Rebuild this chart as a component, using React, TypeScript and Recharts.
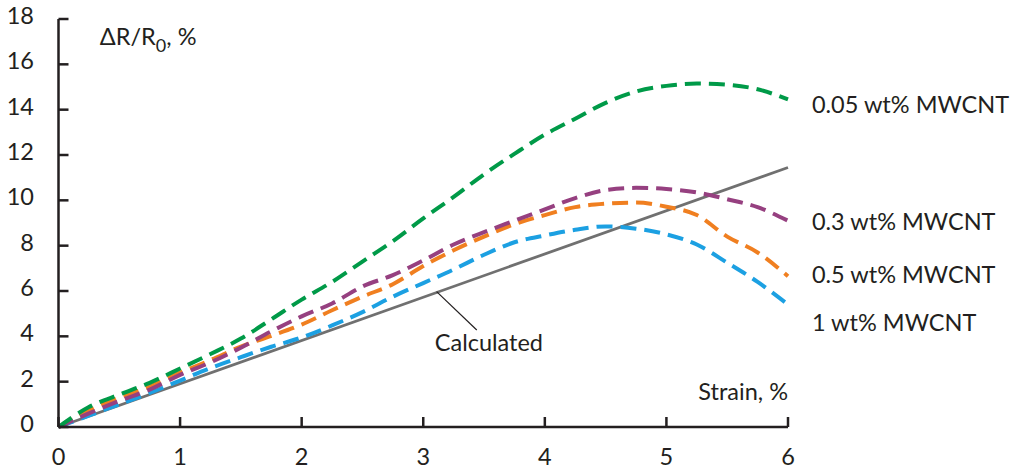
import React from "react";
import { LineChart, Line, XAxis, YAxis, ReferenceLine, ReferenceDot } from "recharts";

const strain = [0, 0.25, 0.5, 0.75, 1, 1.25, 1.5, 1.75, 2, 2.25, 2.5, 2.75, 3, 3.25, 3.5, 3.75, 4, 4.25, 4.5, 4.75, 5, 5.25, 5.5, 5.75, 6];
const wt005 = [0, 0.88, 1.43, 1.95, 2.58, 3.22, 3.9, 4.75, 5.62, 6.4, 7.3, 8.2, 9.2, 10.15, 11.15, 12.05, 12.9, 13.6, 14.3, 14.8, 15.05, 15.15, 15.1, 14.9, 14.45];
const wt03 = [0, 0.6, 1.15, 1.65, 2.3, 2.85, 3.5, 4.22, 4.88, 5.45, 6.2, 6.7, 7.35, 8.05, 8.6, 9.1, 9.6, 10.1, 10.45, 10.55, 10.5, 10.35, 10.05, 9.7, 9.1];
const wt05 = [0, 0.72, 1.3, 1.78, 2.4, 2.95, 3.55, 4.02, 4.52, 5.15, 5.75, 6.3, 7.1, 7.8, 8.4, 8.95, 9.35, 9.7, 9.85, 9.9, 9.72, 9.35, 8.4, 7.7, 6.65];
const wt1 = [0, 0.5, 1.0, 1.5, 2.05, 2.6, 3.08, 3.54, 3.95, 4.48, 5.07, 5.75, 6.35, 6.95, 7.6, 8.15, 8.45, 8.7, 8.85, 8.75, 8.5, 8.05, 7.25, 6.4, 5.4];
const calcStrain = [0, 6];
const calcValues = [0, 11.45];
const xTicks = [0, 1, 2, 3, 4, 5, 6];
const yTicks = [0, 2, 4, 6, 8, 10, 12, 14, 16, 18];

const data = strain.map((s, i) => ({ strain: s, a: wt005[i], b: wt03[i], c: wt05[i], d: wt1[i] }));
const calcData = calcStrain.map((s, i) => ({ strain: s, calc: calcValues[i] }));

const FONT = "Lato, 'Open Sans', sans-serif";
const TXT = "#231f20";
const FS = 23.5;

const XTick = (p: any) => (
  <g>
    <line x1={p.x} y1={427} x2={p.x} y2={417} stroke={TXT} strokeWidth={2.5} />
    <text x={p.x} y={465} textAnchor="middle" fontFamily={FONT} fontSize={FS} fill={TXT}>
      {p.payload.value}
    </text>
  </g>
);

const YTick = (p: any) => (
  <g>
    <line x1={58.5} y1={p.y} x2={68.5} y2={p.y} stroke={TXT} strokeWidth={2.5} />
    <text x={34} y={p.y + 5} textAnchor="end" fontFamily={FONT} fontSize={FS} fill={TXT}>
      {p.payload.value}
    </text>
  </g>
);

const textLabel = (content: React.ReactNode, anchor: string = "start") => (props: any) => {
  const vb = props.viewBox || {};
  return (
    <text x={vb.x} y={vb.y + 8} textAnchor={anchor} fontFamily={FONT} fontSize={FS} fill={TXT}>
      {content}
    </text>
  );
};

const dash = "16 8";

export default function App() {
  return (
    <div style={{ position: "absolute", left: 0, top: 0, background: "#fff" }}>
      <LineChart width={1014} height={471} margin={{ top: 19, right: 226, bottom: 24, left: 38.5 }}>
        <XAxis
          dataKey="strain"
          type="number"
          domain={[0, 6]}
          ticks={xTicks}
          height={20}
          tickSize={0}
          tickMargin={0}
          tickLine={false}
          axisLine={{ stroke: TXT, strokeWidth: 2.5 }}
          tick={<XTick />}
          allowDuplicatedCategory={false}
        />
        <YAxis
          type="number"
          domain={[0, 18]}
          ticks={yTicks}
          width={20}
          tickSize={0}
          tickMargin={0}
          tickLine={false}
          axisLine={{ stroke: TXT, strokeWidth: 2.5 }}
          tick={<YTick />}
        />
        <Line data={calcData} dataKey="calc" type="linear" stroke="#707070" strokeWidth={2.8} dot={false} isAnimationActive={false} />
        <Line data={data} dataKey="d" type="monotone" stroke="#1ca0e2" strokeWidth={4} strokeDasharray={dash} dot={false} isAnimationActive={false} />
        <Line data={data} dataKey="c" type="monotone" stroke="#f07f20" strokeWidth={4} strokeDasharray={dash} dot={false} isAnimationActive={false} />
        <Line data={data} dataKey="b" type="monotone" stroke="#964080" strokeWidth={4} strokeDasharray={dash} dot={false} isAnimationActive={false} />
        <Line data={data} dataKey="a" type="monotone" stroke="#009a48" strokeWidth={4} strokeDasharray={dash} dot={false} isAnimationActive={false} />
        <ReferenceLine
          segment={[{ x: 3.11, y: 5.97 }, { x: 3.44, y: 4.28 }]}
          stroke={TXT}
          strokeWidth={1.2}
          ifOverflow="visible"
        />
        <ReferenceDot x={3.54} y={3.7} r={0} ifOverflow="visible" label={textLabel("Calculated", "middle")} />
        <ReferenceDot x={6.0} y={1.55} r={0} ifOverflow="visible" label={textLabel("Strain, %", "end")} />
        <ReferenceDot
          x={0.34}
          y={17.2}
          r={0}
          ifOverflow="visible"
          label={textLabel(
            <>
              <tspan>ΔR/R</tspan>
              <tspan fontSize={18} dy={7}>0</tspan>
              <tspan dy={-7}>, %</tspan>
            </>
          )}
        />
        <ReferenceDot x={6.197} y={14.2} r={0} ifOverflow="visible" label={textLabel("0.05 wt% MWCNT")} />
        <ReferenceDot x={6.197} y={9.05} r={0} ifOverflow="visible" label={textLabel("0.3 wt% MWCNT")} />
        <ReferenceDot x={6.197} y={6.7} r={0} ifOverflow="visible" label={textLabel("0.5 wt% MWCNT")} />
        <ReferenceDot x={6.197} y={4.6} r={0} ifOverflow="visible" label={textLabel("1 wt% MWCNT")} />
      </LineChart>
    </div>
  );
}
